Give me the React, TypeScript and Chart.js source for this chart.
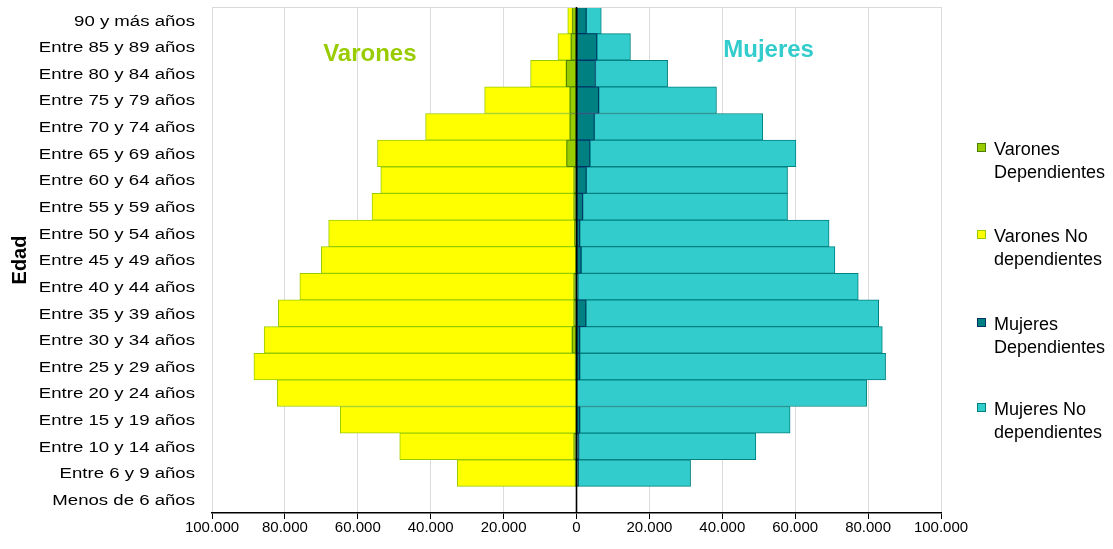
import React, { useEffect, useRef } from "react";
import { Chart, registerables } from "chart.js";

Chart.register(...registerables);

// ---- Data (top row first) ----
const ageGroups = [
  "90 y más años",
  "Entre 85 y 89 años",
  "Entre 80 y 84 años",
  "Entre 75 y 79 años",
  "Entre 70 y 74 años",
  "Entre 65 y 69 años",
  "Entre 60 y 64 años",
  "Entre 55 y 59 años",
  "Entre 50 y 54 años",
  "Entre 45 y 49 años",
  "Entre 40 y 44 años",
  "Entre 35 y 39 años",
  "Entre 30 y 34 años",
  "Entre 25 y 29 años",
  "Entre 20 y 24 años",
  "Entre 15 y 19 años",
  "Entre 10 y 14 años",
  "Entre 6 y 9 años",
  "Menos de 6 años",
];

// Men are plotted to the left (negated when the datasets are built)
const varonesDependientes = [1100, 1500, 2800, 1800, 1800, 2700, 700, 700, 500, 200, 700, 700, 1200, 300, 100, 100, 700, 300, 0];
const varonesNoDependientes = [1300, 3600, 9800, 23400, 39600, 51900, 53000, 55400, 67500, 69800, 75200, 81100, 84500, 88200, 82000, 64700, 47800, 32400, 0];
const mujeresDependientes = [2700, 5600, 5200, 6100, 4900, 3700, 2700, 1700, 900, 1300, 400, 2600, 900, 900, 200, 900, 600, 500, 0];
const mujeresNoDependientes = [4100, 9200, 19800, 32300, 46200, 56500, 55200, 56200, 68400, 69600, 76900, 80300, 83000, 83900, 79400, 57700, 48600, 30800, 0];

const xTickValues = [-100000, -80000, -60000, -40000, -20000, 0, 20000, 40000, 60000, 80000, 100000];
const xTickLabels = ["100.000", "80.000", "60.000", "40.000", "20.000", "0", "20.000", "40.000", "60.000", "80.000", "100.000"];

const seriesLabels = ["Varones Dependientes", "Varones No dependientes", "Mujeres Dependientes", "Mujeres No dependientes"];
const seriesFill = ["#99CC00", "#FFFF00", "#008080", "#33CCCC"];
const seriesBorder = ["#4D8000", "#99CC00", "#003366", "#008080"];

const yAxisTitle = "Edad";
const groupTitles = ["Varones", "Mujeres"];
const groupTitleValues = [-56700, 52700];
const groupTitleColors = ["#99CC00", "#33CCCC"];

const FONT = "'Liberation Sans', Arial, sans-serif";

const textPlugin = {
  id: "pyramidText",
  afterDatasetsDraw(chart: any) {
    const { ctx, chartArea, scales } = chart;
    const x0 = scales.x.getPixelForValue(0);
    ctx.save();
    // top border of plot area
    ctx.strokeStyle = "#d9d9d9";
    ctx.lineWidth = 1;
    ctx.beginPath();
    ctx.moveTo(chartArea.left, chartArea.top + 0.5);
    ctx.lineTo(chartArea.right, chartArea.top + 0.5);
    ctx.stroke();
    // zero line
    ctx.strokeStyle = "#000";
    ctx.lineWidth = 1.6;
    ctx.beginPath();
    ctx.moveTo(x0, chartArea.top);
    ctx.lineTo(x0, chartArea.bottom);
    ctx.stroke();
    ctx.restore();
  },
  afterDraw(chart: any) {
    const { ctx, chartArea, scales } = chart;
    ctx.save();
    // group titles
    ctx.font = `bold 24px ${FONT}`;
    ctx.textAlign = "center";
    ctx.textBaseline = "alphabetic";
    const baselines = [chartArea.top + 53.5, chartArea.top + 49.5];
    groupTitles.forEach((t, i) => {
      ctx.fillStyle = groupTitleColors[i];
      ctx.fillText(t, scales.x.getPixelForValue(groupTitleValues[i]), baselines[i]);
    });
    // y tick labels (slightly widened, as in the source)
    ctx.fillStyle = "#000";
    ctx.font = `15.5px ${FONT}`;
    ctx.textAlign = "right";
    ctx.textBaseline = "middle";
    const labels: string[] = chart.data.labels;
    labels.forEach((lab, i) => {
      ctx.save();
      ctx.translate(chartArea.left - 17, scales.y.getPixelForTick(i) + 1);
      ctx.scale(1.2, 1);
      ctx.fillText(lab, 0, 0);
      ctx.restore();
    });
    // x tick labels
    ctx.font = `15px ${FONT}`;
    ctx.textAlign = "center";
    ctx.textBaseline = "middle";
    xTickValues.forEach((v, i) => {
      ctx.fillText(xTickLabels[i], scales.x.getPixelForValue(v), chartArea.bottom + 15);
    });
    ctx.restore();
  },
};

export default function App() {
  const canvasRef = useRef<HTMLCanvasElement>(null);

  useEffect(() => {
    document.body.style.margin = "0";
    const canvas = canvasRef.current;
    if (!canvas) return;
    const seriesData = [
      varonesDependientes.map((v) => -v),
      varonesNoDependientes.map((v) => -v),
      mujeresDependientes,
      mujeresNoDependientes,
    ];
    const chart = new Chart(canvas, {
      type: "bar",
      data: {
        labels: ageGroups,
        datasets: seriesData.map((d, i) => ({
          label: seriesLabels[i],
          data: d,
          backgroundColor: seriesFill[i],
          borderColor: seriesBorder[i],
          borderWidth: 1,
          borderSkipped: false,
          barPercentage: 1,
          categoryPercentage: 1,
        })),
      },
      options: {
        indexAxis: "y",
        responsive: false,
        animation: false,
        layout: { padding: { top: 7, right: 172, left: 0, bottom: 0 } },
        plugins: {
          legend: { display: false },
          tooltip: { enabled: false },
        },
        scales: {
          x: {
            type: "linear",
            stacked: true,
            min: -100000,
            max: 100000,
            ticks: { display: false, stepSize: 20000 },
            grid: { color: "#dcdcdc", lineWidth: 1, tickColor: "#000", tickLength: 6 },
            border: { color: "#000", width: 1.5 },
            afterFit: (s: any) => {
              s.height = 36;
            },
          },
          y: {
            stacked: true,
            grid: { display: false },
            border: { display: false },
            ticks: { display: false },
            title: {
              display: true,
              text: yAxisTitle,
              color: "#000",
              font: { family: FONT, size: 20, weight: "bold" },
              padding: { top: 8, bottom: 0 },
            },
            afterFit: (s: any) => {
              s.width = 212;
            },
          },
        },
      } as any,
      plugins: [textPlugin],
    });
    return () => chart.destroy();
  }, []);

  const legendTops = [138, 225, 313, 398];

  return (
    <div style={{ position: "relative", width: 1113, height: 549, fontFamily: FONT }}>
      <canvas ref={canvasRef} width={1113} height={549} style={{ display: "block", width: "1113px", height: "549px" }} />
      {seriesLabels.map((lab, i) => (
        <div key={lab} style={{ position: "absolute", left: 977, top: legendTops[i] }}>
          <span
            style={{
              position: "absolute",
              left: 0,
              top: 5,
              width: 7,
              height: 7,
              background: seriesFill[i],
              border: `1px solid ${seriesBorder[i]}`,
            }}
          />
          <div
            style={{
              position: "absolute",
              left: 17,
              top: 0,
              width: 120,
              fontSize: 18,
              lineHeight: "23px",
              color: "#000",
            }}
          >
            {lab}
          </div>
        </div>
      ))}
    </div>
  );
}
